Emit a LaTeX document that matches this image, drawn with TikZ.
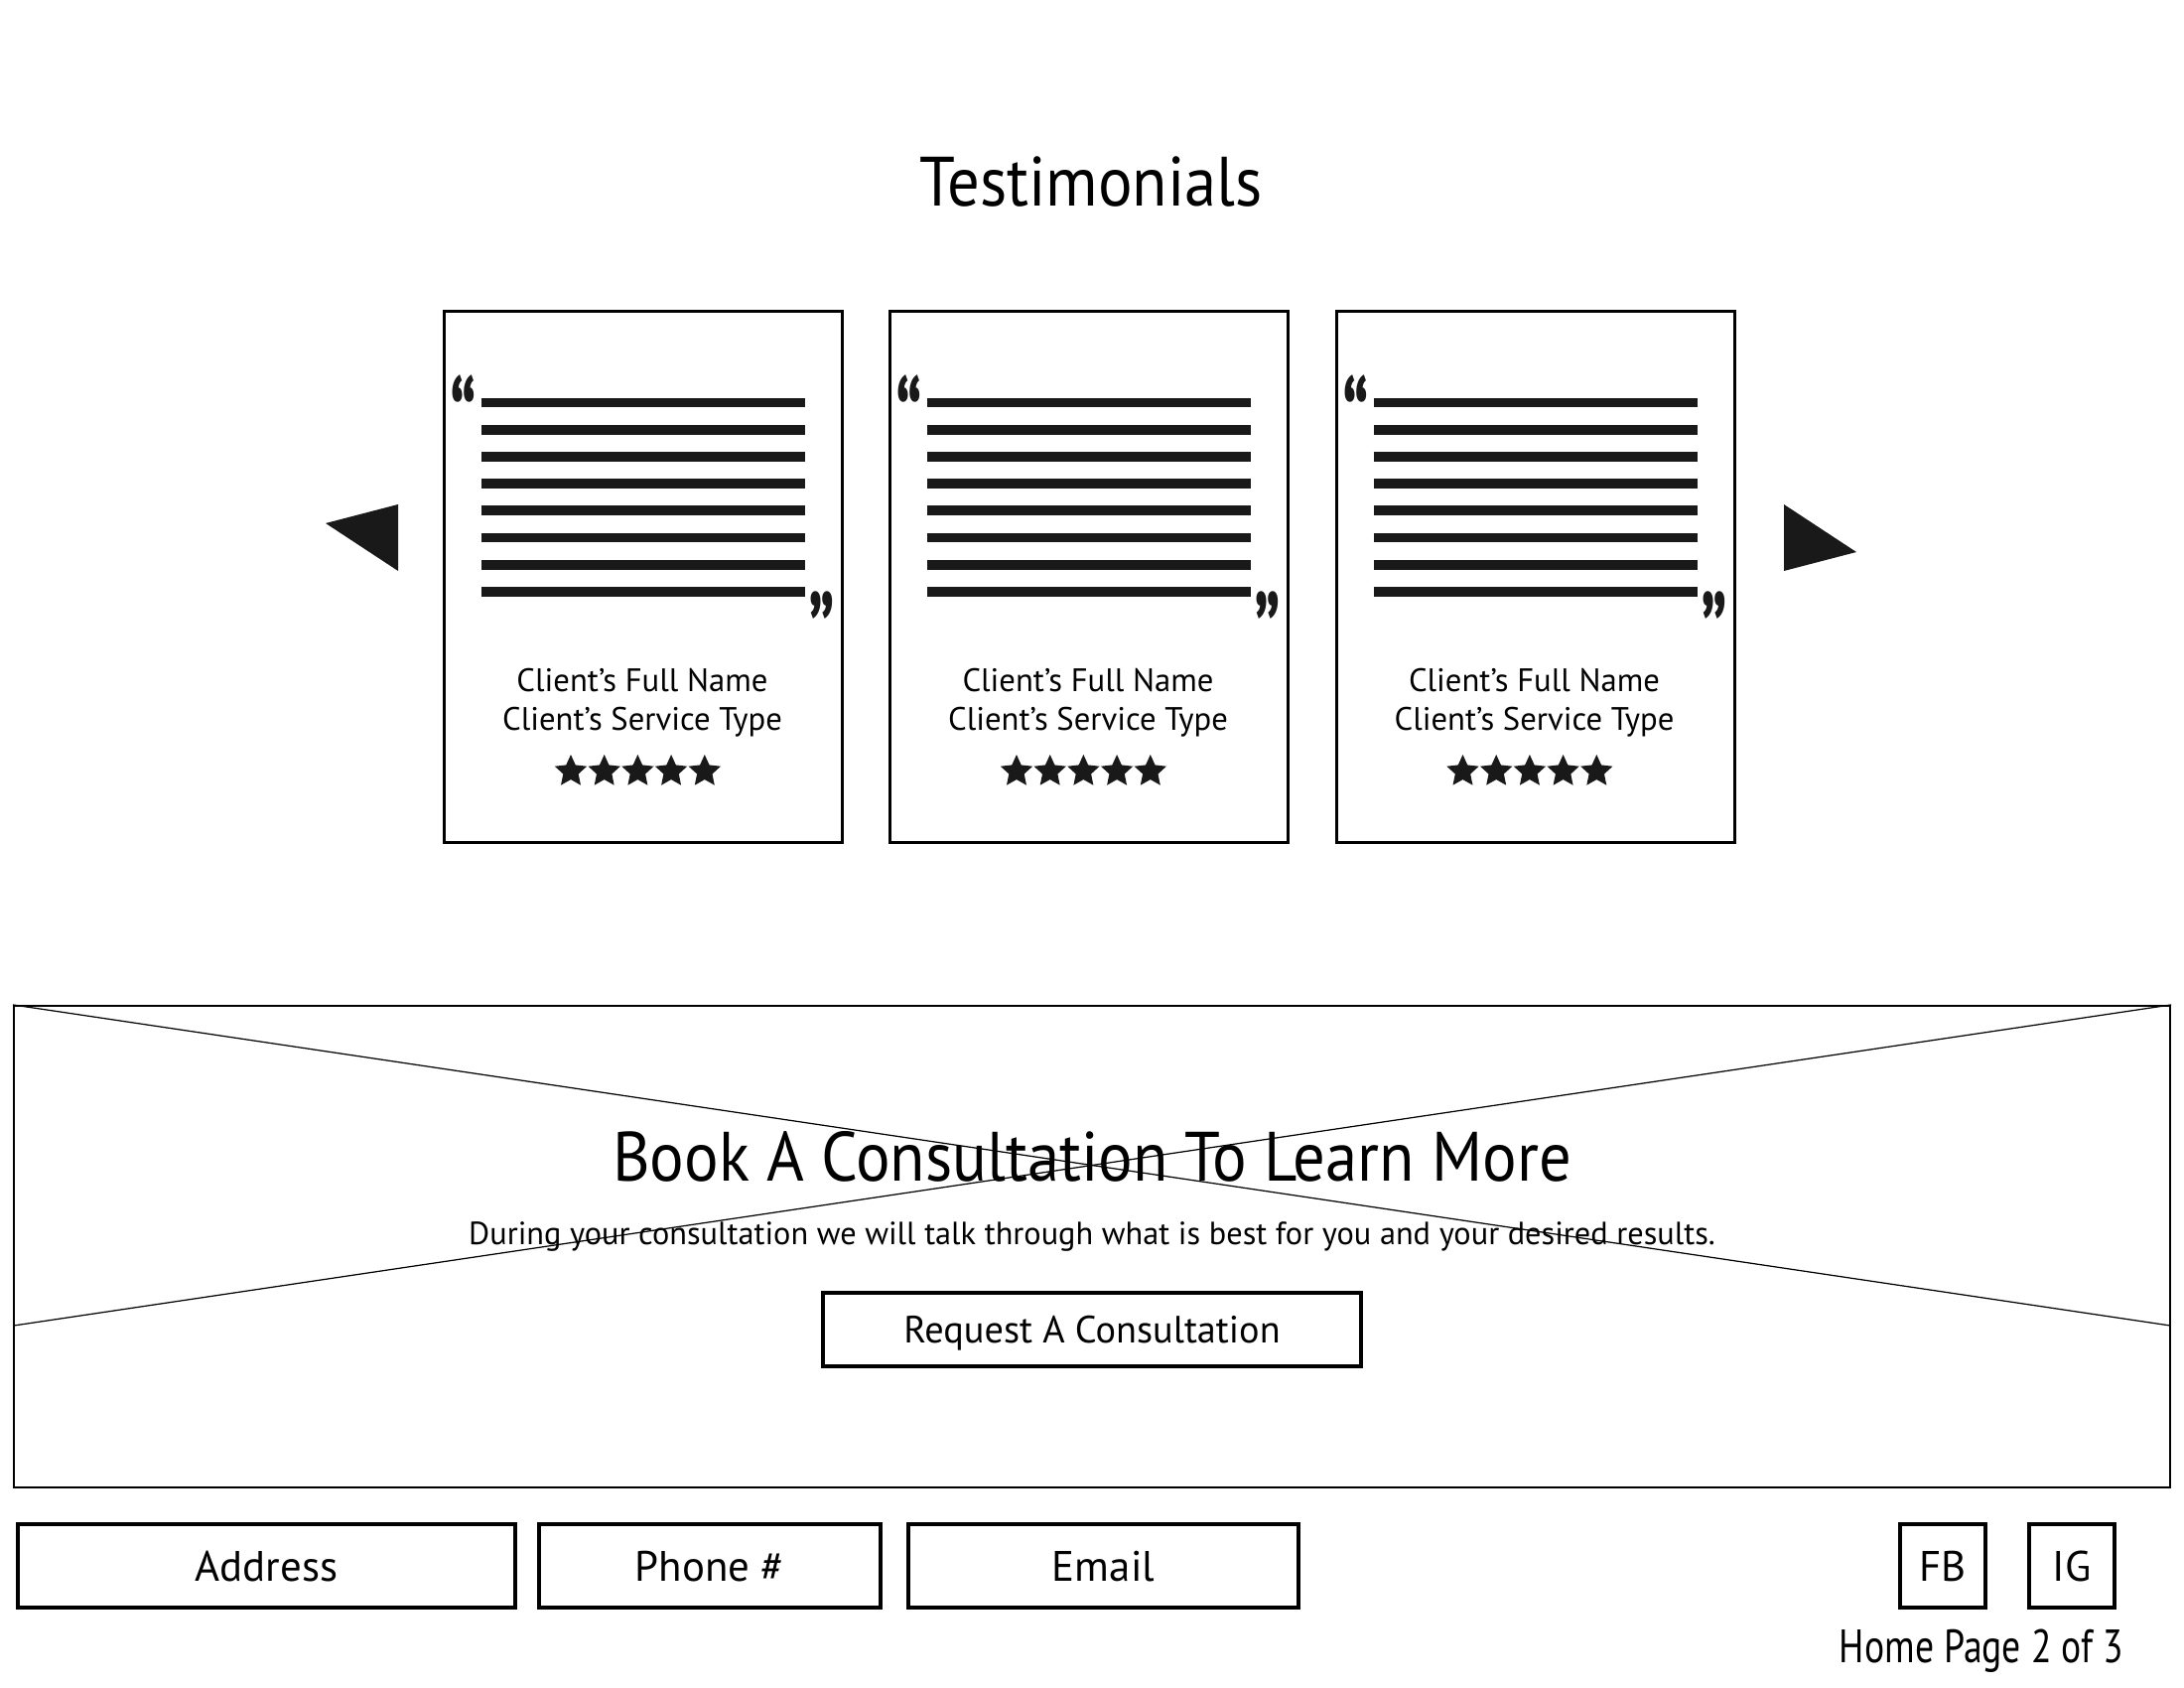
\documentclass[tikz,border=0pt]{standalone}
\usepackage{fontspec}
\setmainfont{PT Sans}
\newfontfamily\headfont[FakeStretch=0.92]{PT Sans}
\newfontfamily\narrowfont[FakeStretch=0.8]{PT Sans}
\newfontfamily\quotefont[FakeStretch=0.6]{PT Sans Bold}
\usetikzlibrary{shapes.geometric}

\begin{document}
\begin{tikzpicture}[x = 0.1mm, y = -0.1mm]
	\tikzstyle{cardStyle} = [draw, line width = 0.85pt, minimum width = 40.1mm, minimum height = 53.5mm, inner sep = 0pt]
	\tikzstyle{textLine} = [line width = 2.8pt, black!90]
	\tikzstyle{quoteStyle} = [inner sep = 0pt, text = black!90, font = \quotefont\fontsize{32}{32}\selectfont]
	\tikzstyle{clientStyle} = [inner sep = 0pt, anchor = base, font = \fontsize{9.3}{11}\selectfont]
	\tikzstyle{starStyle} = [star, star points = 5, star point ratio = 2.1, fill = black!90, minimum size = 3.4mm, inner sep = 0pt]
	\tikzstyle{buttonStyle} = [draw, line width = 1.1pt, inner sep = 0pt, text depth = 0pt, font = \fontsize{12.2}{13}\selectfont]
	\useasboundingbox (0,0) rectangle (2200,1700);
	\node[anchor = base, inner sep = 0pt, font = \headfont\fontsize{20}{24}\selectfont] (title) at (1099, 207.6) {Testimonials};
	\foreach \c/\x in {1/648, 2/1097, 3/1546.5} {
		\node[cardStyle] (card\c) at (\x, 581.5) {};
		\foreach \k in {0,...,7}
			\draw[textLine] ({\x-163}, {405.5+27.2*\k}) -- ({\x+163}, {405.5+27.2*\k});
		\node[quoteStyle, anchor = north] (openQuote\c) at ({\x-181}, 377) {“};
		\node[quoteStyle, anchor = north] (closeQuote\c) at ({\x+180}, 595) {”};
		\node[clientStyle] (clientName\c) at ({\x-1}, 697) {Client’s Full Name};
		\node[clientStyle] (clientType\c) at ({\x-1}, 736) {Client’s Service Type};
		\foreach \s in {0,...,4}
			\node[starStyle] (star\c\s) at ({\x-73+33.7*\s}, 777) {};
	}
	\fill[black!90] (328, 527) -- (401, 508) -- (401, 575) -- cycle;
	\fill[black!90] (1797, 508) -- (1870, 556) -- (1797, 575) -- cycle;
	\node[draw, line width = 0.6pt, minimum width = 217.2mm, minimum height = 48.5mm, inner sep = 0pt] (banner) at (1100, 1255.5) {};
	\coordinate (crossLeft) at (14, 1335);
	\coordinate (crossRight) at (2186, 1335);
	\draw[line width = 0.35pt] (banner.north west) -- (crossRight);
	\draw[line width = 0.35pt] (crossLeft) -- (banner.north east);
	\node[anchor = base, inner sep = 0pt, font = \headfont\fontsize{20}{24}\selectfont] (bookTitle) at (1100, 1190) {Book A Consultation To Learn More};
	\node[anchor = base, inner sep = 0pt, font = \fontsize{9.2}{10}\selectfont] (bookText) at (1100, 1254) {During your consultation we will talk through what is best for you and your desired results.};
	\node[buttonStyle, minimum width = 54.2mm, minimum height = 7.4mm, font = \fontsize{10.9}{12}\selectfont] (request) at (1100, 1339) {Request A Consultation};
	\node[buttonStyle, minimum width = 50.1mm, minimum height = 8.4mm] (address) at (268.5, 1577) {Address};
	\node[buttonStyle, minimum width = 34.4mm, minimum height = 8.4mm] (phone) at (715, 1577) {Phone \#};
	\node[buttonStyle, minimum width = 39.3mm, minimum height = 8.4mm] (email) at (1111.5, 1577) {Email};
	\node[buttonStyle, minimum width = 8.6mm, minimum height = 8.4mm] (fb) at (1957, 1577) {FB};
	\node[buttonStyle, minimum width = 8.6mm, minimum height = 8.4mm] (ig) at (2087, 1577) {IG};
	\node[anchor = base, inner sep = 0pt, font = \narrowfont\fontsize{13.4}{15}\selectfont] (pageNo) at (1996, 1674) {Home Page 2 of 3};
\end{tikzpicture}
\end{document}
